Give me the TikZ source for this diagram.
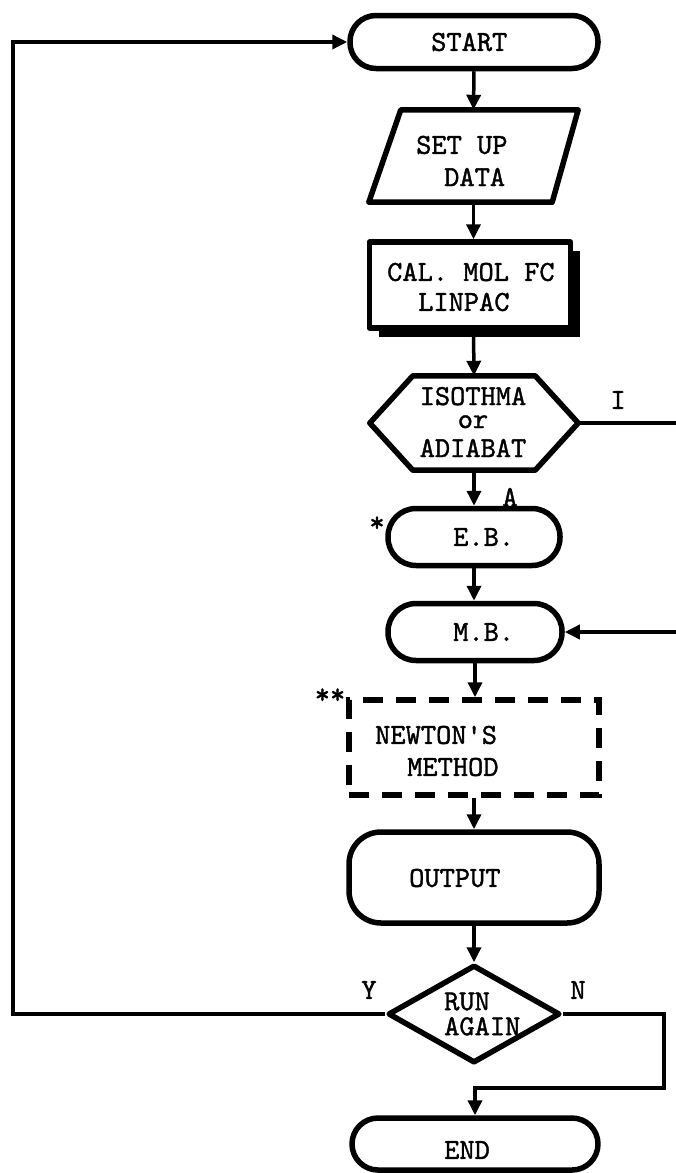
\documentclass[tikz,border=0pt]{standalone}
\usepackage{fontspec}
\usetikzlibrary{shapes.geometric,shapes.misc,arrows.meta,shadows}
\newfontfamily\twfont{lmmono10-regular}[Extension=.otf, FakeBold=1.3]
\begin{document}
\tikzset{
  outline/.style={draw, line width=5.5pt, line join=round, inner sep=0pt},
  term/.style={outline, rectangle, rounded corners=#1},
  lbl/.style={inner sep=0pt, font=\fontsize{29}{29}\selectfont\twfont},
  conn/.style={line width=3.5pt, -{Triangle[length=15pt,width=14pt]}},
  frame/.style={minimum width=#1, inner sep=0pt},
}
\begin{tikzpicture}[x=1pt,y=-1pt]
\useasboundingbox (0,0) rectangle (676,1173);
% shapes
\node[term=26pt, minimum width=248pt, minimum height=53pt] (start) at (474,42) {};
\node[frame=209pt, minimum height=92pt] (setup) at (473.5,156) {};
\draw[outline] ([xshift=32pt]setup.north west) -- (setup.north east) -- ([xshift=-26pt]setup.south east)
   -- (setup.south west) -- cycle;
\node[outline, rectangle, minimum width=201pt, minimum height=86pt, fill=white,
      drop shadow={shadow xshift=9pt, shadow yshift=-9pt, opacity=1, fill=black}] (cal) at (470,285) {};
\node[frame=208pt, minimum height=94pt] (hex) at (474,423) {};
\draw[outline] (hex.west) -- ([xshift=43pt]hex.north west) -- ([xshift=-43pt]hex.north east)
   -- (hex.east) -- ([xshift=-43pt]hex.south east) -- ([xshift=43pt]hex.south west) -- cycle;
\node[term=28pt, minimum width=172pt, minimum height=57pt] (eb) at (474,537) {};
\node[term=28pt, minimum width=174pt, minimum height=57pt] (mb) at (475,632) {};
\node[draw, line width=5.5pt, dash pattern=on 20pt off 13pt, minimum width=250pt, minimum height=95pt] (newton) at (474,747.5) {};
\node[term=32pt, minimum width=250pt, minimum height=91pt] (output) at (474,877.5) {};
\node[outline, diamond, minimum width=172pt, minimum height=98pt] (run) at (474,1014) {};
\node[term=26pt, minimum width=246pt, minimum height=52pt] (end) at (475,1144) {};
% connectors
\draw[conn] (start.south) -- (setup.north);
\draw[conn] (setup.south) -- (setup.south |- cal.north);
\draw[conn] (setup.south |- cal.south) -- (hex.north);
\draw[conn] (hex.south) -- (eb.north);
\draw[conn] (eb.south) -- (eb.south |- mb.north);
\draw[conn] (mb.south) -- (mb.south |- newton.north);
\draw[conn] (newton.south) -- (output.north);
\draw[conn] (output.south) -- (run.north);
\coordinate (bl) at (13,1014);
\coordinate (tl) at (13,42);
\draw[conn] (run.west) -- (bl) -- (tl) -- (start.west);
\coordinate (nr) at (664,1014);
\coordinate (nb) at (664,1088);
\draw[conn] (run.east) -- (nr) -- (nb) -- (nb -| end.north) -- (end.north);
\coordinate (ir1) at (700,423);
\coordinate (ir2) at (700,632);
\draw[conn] (hex.east) -- (ir1) -- (ir2) -- (mb.east);
% texts
\node[lbl, anchor=west] (tstart) at (431,42) {START};
\node[lbl, anchor=west] (tset) at (416,145) {SET UP};
\node[lbl, anchor=west] (tdata) at (444,177) {DATA};
\node[lbl, anchor=west] (tcal) at (387,272) {CAL. MOL FC};
\node[lbl, anchor=west] (tlin) at (418,302) {LINPAC};
\node[lbl, align=center, font=\fontsize{29}{26}\selectfont\twfont] (tiso) at (473,422)
   {ISOTHMA\\[-3pt]or\\[3pt]ADIABAT};
\node[lbl, anchor=west] (teb) at (453,537) {E.B.};
\node[lbl, anchor=west] (tmb) at (453,632) {M.B.};
\node[lbl, anchor=west] (tnew) at (375,735) {NEWTON'S};
\node[lbl, anchor=west] (tmeth) at (407,767) {METHOD};
\node[lbl, anchor=west] (tout) at (409,878) {OUTPUT};
\node[lbl, anchor=west, align=left, font=\fontsize{29}{25}\selectfont\twfont] (trun) at (444,1014)
   {RUN\\AGAIN};
\node[lbl, anchor=west] (tend) at (444,1150) {END};
\node[lbl] (ly) at (369,990) {Y};
\node[lbl] (ln) at (578,990) {N};
\node[lbl] (la) at (510,497) {A};
\node[lbl] (li) at (618,400) {I};
\node[lbl] (ast1) at (377,524) {*};
\node[lbl] (ast2) at (330,696) {**};
\end{tikzpicture}
\end{document}
